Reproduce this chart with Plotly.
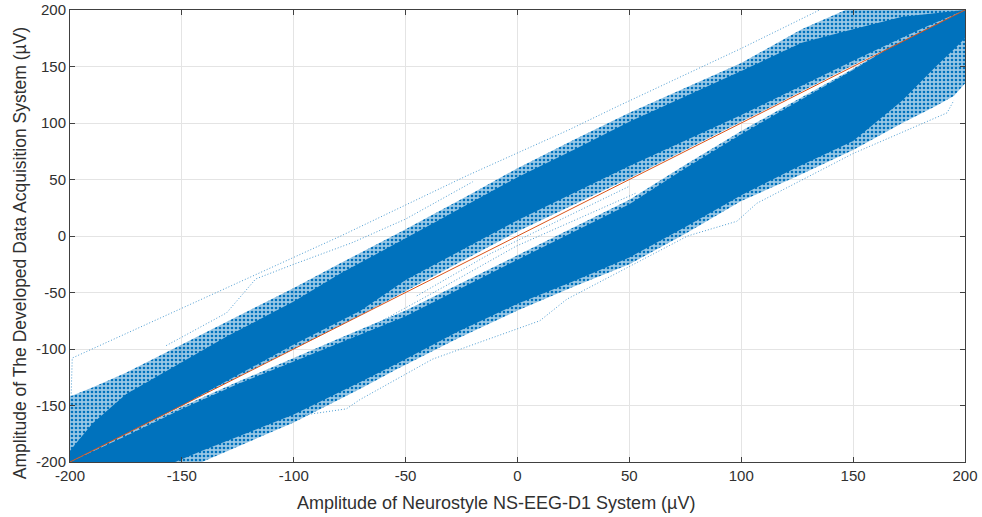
import plotly.graph_objects as go

BLUE = "#0072BD"
RED = "#D95319"

# Upper cloud (above the identity line): envelope
up_top_x = [-200, -190, -175, -150, -130, -100, -79, -50, -20, 0, 25, 50, 100, 127, 150, 172, 200]
up_fringe_top = [-142, -134, -121, -96, -76, -46, -24, 6, 38, 60, 85, 109, 153, 183, 203, 206, 206]
up_dense_top = [-190, -166, -140, -112, -89, -58, -33, -2, 30, 52, 76, 101, 146, 171, 183, 194, 200]
up_bot_x = [-200, -150, -100, -70, -50, 0, 50, 100, 150, 180, 200]
up_dense_bottom = [-200, -150, -96, -66, -39, 14, 62, 107, 155, 183, 200]
up_fringe_bottom = [-200, -150, -100, -70, -49, 4, 51, 101, 151, 180, 200]

# Lower cloud (below the identity line)
lo_top_x = [-200, -175, -150, -125, -100, -79, -50, 0, 50, 75, 100, 120, 150, 165, 200]
lo_fringe_top = [-200, -175, -151, -129, -108, -90, -66, -17, 32, 63, 93, 115, 148, 166, 200]
lo_dense_top = [-200, -177, -153, -131, -111, -94, -71, -21, 28, 60, 90, 113, 147, 165, 200]
lo_bot_x = [-200, -153, -141, -126, -100, -70, -54, -27, 0, 25, 50, 75, 100, 124, 150, 172, 187, 195, 200]
lo_dense_bottom = [-215, -200, -190, -178, -158, -129, -113, -85, -60, -40, -19, 8, 36, 60, 84, 120, 150, 165, 175]
lo_fringe_bottom = [-240, -215, -200, -187, -165, -135, -118, -91, -66, -45, -25, 2, 31, 52, 76, 100, 115, 124, 135]

# Stray traces that stand clear of the clouds
stray_1_x = [-199.5, -199, -79, -23, 23, 45, 100, 135]
stray_1_y = [-142, -108, 0, 53, 94, 115, 166, 200]
stray_2_x = [-157, -130, -117, -100, -74, -50, -20]
stray_2_y = [-97, -68, -38, -25, -6, 15, 48]
stray_3_x = [-97.5, -76.5, -70.6, -38, 10, 22, 50, 76, 98, 107, 150, 192, 195]
stray_3_y = [-159, -153, -145, -109, -75, -56, -27, 0, 13, 29, 73, 109, 120]
stray_4_x = [-45, -12.5, 50]
stray_4_y = [-53, -16, 44]
stray_5_x = [-79, -32, -0.6, 53]
stray_5_y = [-95, -44, -9, 38]

identity_x = [-200, 200]
identity_y = [-200, 200]

tick_values = [-200, -150, -100, -50, 0, 50, 100, 150, 200]
tick_labels = ["-200", "-150", "-100", "-50", "0", "50", "100", "150", "200"]
x_title = "Amplitude of Neurostyle NS-EEG-D1 System (µV)"
y_title = "Amplitude of The Developed Data Acquisition System (µV)"


def band(fig, top_x, top, bot_x, bottom, color, pattern=None):
    fig.add_trace(go.Scatter(
        x=top_x + bot_x[::-1], y=top + bottom[::-1], mode="lines", fill="toself",
        fillcolor=color, fillpattern=pattern, line=dict(width=0),
        hoverinfo="skip", showlegend=False))


fig = go.Figure()
fringe = dict(shape=".", size=4, solidity=0.35, fgcolor=BLUE, bgcolor="rgba(0,114,189,0.4)", fillmode="replace")
band(fig, up_top_x, up_fringe_top, up_bot_x, up_fringe_bottom, "rgba(0,114,189,0.4)", fringe)
band(fig, lo_top_x, lo_fringe_top, lo_bot_x, lo_fringe_bottom, "rgba(0,114,189,0.4)", fringe)
band(fig, up_top_x, up_dense_top, up_bot_x, up_dense_bottom, BLUE)
band(fig, lo_top_x, lo_dense_top, lo_bot_x, lo_dense_bottom, BLUE)

for xs, ys in [(stray_1_x, stray_1_y), (stray_2_x, stray_2_y), (stray_3_x, stray_3_y),
               (stray_4_x, stray_4_y), (stray_5_x, stray_5_y)]:
    fig.add_trace(go.Scatter(x=xs, y=ys, mode="lines", showlegend=False,
                             line=dict(color="rgba(0,114,189,0.7)", width=1, dash="1px 2px")))

fig.add_trace(go.Scatter(x=identity_x, y=identity_y, mode="lines", showlegend=False,
                         line=dict(color=RED, width=1)))

axis = dict(
    range=[-200, 200], tickmode="array", tickvals=tick_values, ticktext=tick_labels,
    ticks="inside", ticklen=5, tickwidth=1, tickcolor="#404040",
    showgrid=True, gridcolor="#e4e4e4", gridwidth=1, zeroline=False,
    showline=True, linecolor="#404040", linewidth=1, mirror="ticks", automargin=False,
    tickfont=dict(size=15, color="#303030"),
)
fig.update_layout(
    width=982, height=517, paper_bgcolor="white", plot_bgcolor="white",
    margin=dict(l=70, r=17, t=10, b=55),
    font=dict(family="Liberation Sans, Arial, sans-serif", color="#303030"),
    xaxis=axis,
    yaxis=axis,
    annotations=[
        dict(text=x_title, xref="paper", yref="paper", x=0.476, y=0, yshift=-41, showarrow=False,
             xanchor="center", yanchor="middle", font=dict(size=18, color="#303030")),
        dict(text=y_title, xref="paper", yref="paper", x=0, xshift=-50, y=0.462, showarrow=False,
             textangle=-90, xanchor="center", yanchor="middle", font=dict(size=17.5, color="#303030")),
    ],
)
fig.write_html("out.html", config={"displayModeBar": False},
               post_script="document.body.style.margin='0';")
